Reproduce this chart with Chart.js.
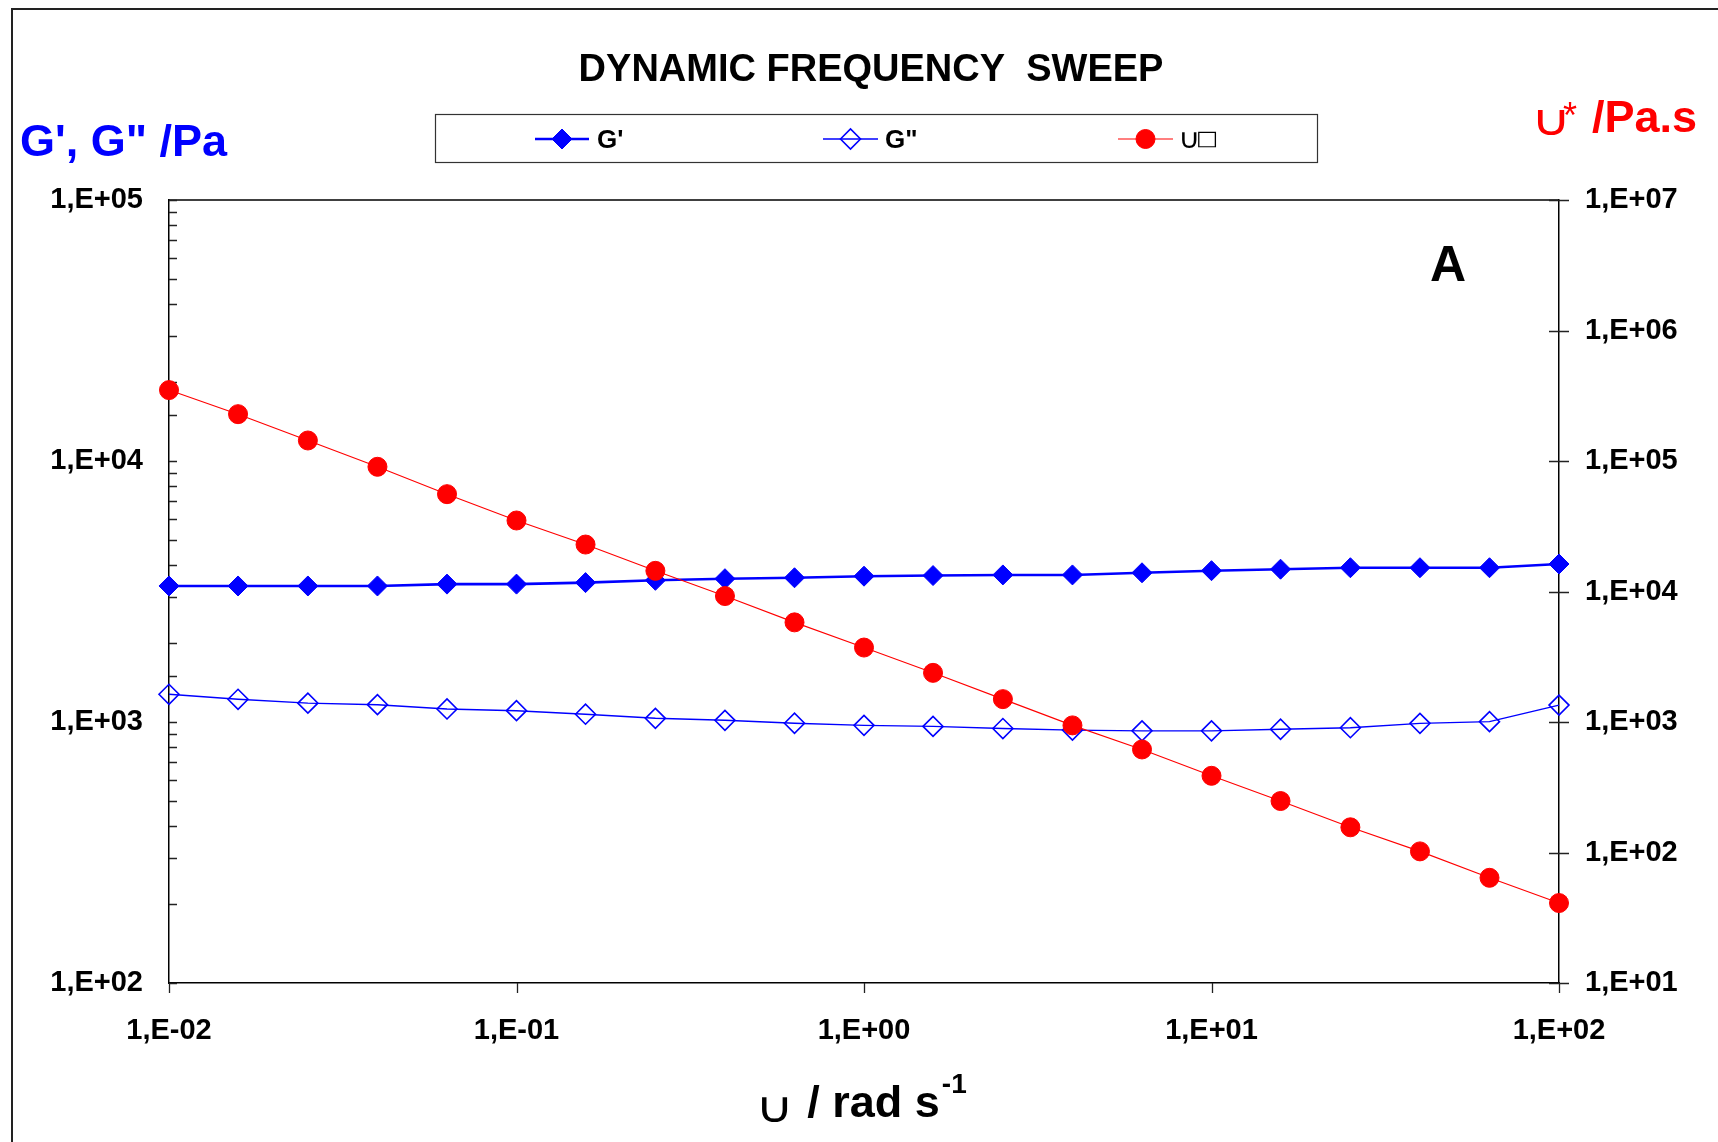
<!DOCTYPE html>
<html>
<head>
<meta charset="utf-8">
<script src="https://cdn.jsdelivr.net/npm/chart.js@4.4.1/dist/chart.umd.min.js"></script>
<style>
  html, body { margin: 0; padding: 0; background: #fff; }
  canvas { display: block; }
</style>
</head>
<body>
<canvas id="chart" width="1718" height="1142"></canvas>
<script>
// angular frequency (rad/s), 5 points per decade
const omega = [0.01, 0.0158, 0.0251, 0.0398, 0.0631, 0.1, 0.158, 0.251, 0.398, 0.631,
               1, 1.58, 2.51, 3.98, 6.31, 10, 15.8, 25.1, 39.8, 63.1, 100];

// storage modulus G' (Pa)
const gPrime = [3320, 3320, 3320, 3320, 3375, 3375, 3420, 3490, 3540, 3570,
                3620, 3640, 3660, 3660, 3730, 3800, 3850, 3900, 3900, 3900, 4030];

// loss modulus G" (Pa)
const gDouble = [1277, 1222, 1181, 1165, 1122, 1105, 1071, 1033, 1015, 989,
                 971, 962, 944, 931, 925, 925, 938, 951, 988, 1003, 1161];

// complex viscosity (Pa.s)
const etaStar = [349400, 228500, 143600, 90300, 55700, 35000, 22900, 14400, 9230, 5800,
                 3720, 2380, 1497, 942, 616, 387, 248, 156, 102, 64, 41];

const seriesNames = ["G'", 'G"', '\u222A\u25A1'];

const BLUE = '#0000FF';
const RED = '#FF0000';
const FONT = '"Liberation Sans", Arial, Helvetica, sans-serif';
const SYMBOL_FONT = '"DejaVu Sans", sans-serif';
const CUP = '\u222A';

const toPoints = (ys) => omega.map((x, i) => ({ x, y: ys[i] }));

function isMajor(v) {
  const l = Math.log10(v);
  return Math.abs(l - Math.round(l)) < 1e-6;
}

function expLabel(v) {
  if (!isMajor(v)) return '';
  const e = Math.round(Math.log10(v));
  return '1,E' + (e < 0 ? '-' : '+') + String(Math.abs(e)).padStart(2, '0');
}

// draw a glyph so that its ink box is width x height px, starting at `left`, sitting on `bottom`
function drawFitted(ctx, text, family, left, bottom, width, height) {
  ctx.font = `100px ${family}`;
  let m = ctx.measureText(text);
  const ink = (m.actualBoundingBoxLeft + m.actualBoundingBoxRight) || m.width;
  const size = 100 * width / ink;
  ctx.font = `${size}px ${family}`;
  m = ctx.measureText(text);
  const inkH = (m.actualBoundingBoxAscent + m.actualBoundingBoxDescent) || size * 0.7;
  const sy = height ? height / inkH : 1;
  ctx.save();
  ctx.translate(left, bottom);
  ctx.scale(1, sy);
  ctx.fillText(text, m.actualBoundingBoxLeft || 0, -(m.actualBoundingBoxDescent || 0));
  ctx.restore();
}

const tickFont = { family: FONT, size: 29, weight: 'bold' };

// outer frame, plot top line and tick marks
const framePlugin = {
  id: 'frame',
  beforeDraw(chart) {
    const { ctx } = chart;
    ctx.save();
    ctx.fillStyle = '#fff';
    ctx.fillRect(0, 0, chart.width, chart.height);
    ctx.strokeStyle = '#222';
    ctx.lineWidth = 2;
    ctx.beginPath();
    ctx.moveTo(12, chart.height);
    ctx.lineTo(12, 9);
    ctx.lineTo(chart.width, 9);
    ctx.stroke();
    ctx.restore();
  },
  beforeDatasetsDraw(chart) {
    const { ctx, chartArea: a, scales } = chart;
    ctx.save();
    ctx.strokeStyle = '#000';
    ctx.lineWidth = 1.5;
    ctx.beginPath();
    ctx.moveTo(a.left, a.top);
    ctx.lineTo(a.right, a.top);
    ctx.stroke();

    ctx.lineWidth = 1.3;
    ctx.strokeStyle = '#222';
    ctx.beginPath();
    scales.y.ticks.forEach(t => {
      const py = Math.round(scales.y.getPixelForValue(t.value)) + 0.5;
      ctx.moveTo(a.left, py);
      ctx.lineTo(a.left + 8, py);
    });
    scales.y1.ticks.forEach(t => {
      if (!isMajor(t.value)) return;
      const py = Math.round(scales.y1.getPixelForValue(t.value)) + 0.5;
      ctx.moveTo(a.right - 10, py);
      ctx.lineTo(a.right + 10, py);
    });
    scales.x.ticks.forEach(t => {
      if (!isMajor(t.value)) return;
      const px = Math.round(scales.x.getPixelForValue(t.value)) + 0.5;
      ctx.moveTo(px, a.bottom);
      ctx.lineTo(px, a.bottom + 10);
    });
    ctx.stroke();
    ctx.restore();
  }
};

// title, axis titles, panel letter and boxed legend
const textPlugin = {
  id: 'texts',
  afterDraw(chart) {
    const { ctx, chartArea: a } = chart;
    ctx.save();
    ctx.textBaseline = 'alphabetic';

    ctx.fillStyle = '#000';
    ctx.textAlign = 'center';
    ctx.font = `bold 38px ${FONT}`;
    ctx.fillText('DYNAMIC FREQUENCY  SWEEP', 871, 81);

    ctx.textAlign = 'left';
    ctx.fillStyle = BLUE;
    ctx.font = `bold 45px ${FONT}`;
    ctx.fillText('G\', G" /Pa', 20, 156);

    // right axis title
    ctx.fillStyle = RED;
    drawFitted(ctx, CUP, SYMBOL_FONT, 1538, 135, 27, 25);
    ctx.font = `36px ${FONT}`;
    ctx.fillText('*', 1563, 128);
    ctx.font = `bold 45px ${FONT}`;
    ctx.fillText('/Pa.s', 1592, 132);

    ctx.fillStyle = '#000';
    ctx.textAlign = 'center';
    ctx.font = `bold 50px ${FONT}`;
    ctx.fillText('A', 1448, 281);

    // x axis title
    ctx.textAlign = 'left';
    const wSym = 26;
    const gap = 20;
    ctx.font = `bold 45px ${FONT}`;
    const wMain = ctx.measureText('/ rad s').width;
    ctx.font = `bold 28px ${FONT}`;
    const wSup = ctx.measureText('-1').width;
    const x0 = (a.left + a.right) / 2 - (wSym + gap + wMain + wSup + 2) / 2;
    drawFitted(ctx, CUP, SYMBOL_FONT, x0, 1122, wSym, 25);
    ctx.font = `bold 45px ${FONT}`;
    ctx.fillText('/ rad s', x0 + wSym + gap, 1117);
    ctx.font = `bold 28px ${FONT}`;
    ctx.fillText('-1', x0 + wSym + gap + wMain + 2, 1093);

    // legend box
    ctx.strokeStyle = '#333';
    ctx.lineWidth = 1.2;
    ctx.strokeRect(435.5, 114.5, 882, 48);
    const items = [
      { x1: 535, x2: 589, tx: 597 },
      { x1: 823, x2: 878, tx: 885 },
      { x1: 1118, x2: 1173, tx: 1181 }
    ];
    const ly = 139;
    chart.data.datasets.forEach((ds, i) => {
      const it = items[i];
      ctx.strokeStyle = ds.borderColor;
      ctx.lineWidth = ds.borderWidth;
      ctx.beginPath();
      ctx.moveTo(it.x1, ly);
      ctx.lineTo(it.x2, ly);
      ctx.stroke();
      ctx.fillStyle = ds.pointBackgroundColor;
      ctx.strokeStyle = ds.pointBorderColor;
      ctx.lineWidth = ds.pointBorderWidth;
      Chart.helpers.drawPoint(ctx, {
        pointStyle: ds.pointStyle,
        radius: ds.pointRadius,
        borderWidth: ds.pointBorderWidth,
        rotation: 0
      }, (it.x1 + it.x2) / 2, ly);
      ctx.fillStyle = '#000';
      ctx.textBaseline = 'alphabetic';
      if (i < 2) {
        ctx.font = `bold 26px ${FONT}`;
        ctx.fillText(seriesNames[i], it.tx, ly + 9);
      } else {
        const [cup, box] = [...seriesNames[i]];
        drawFitted(ctx, cup, SYMBOL_FONT, it.tx, ly + 9, 15, 16);
        drawFitted(ctx, box, SYMBOL_FONT, it.tx + 17, ly + 9, 18, 17);
      }
    });
    ctx.restore();
  }
};

new Chart(document.getElementById('chart'), {
  type: 'line',
  data: {
    datasets: [
      {
        label: seriesNames[0],
        data: toPoints(gPrime),
        yAxisID: 'y',
        borderColor: BLUE,
        borderWidth: 2.6,
        pointStyle: 'rectRot',
        pointRadius: 10,
        pointBackgroundColor: BLUE,
        pointBorderColor: BLUE,
        pointBorderWidth: 1,
        clip: false,
        order: 1
      },
      {
        label: seriesNames[1],
        data: toPoints(gDouble),
        yAxisID: 'y',
        borderColor: BLUE,
        borderWidth: 1.4,
        pointStyle: 'rectRot',
        pointRadius: 10,
        pointBackgroundColor: 'rgba(0,0,0,0)',
        pointBorderColor: BLUE,
        pointBorderWidth: 1.6,
        clip: false,
        order: 2
      },
      {
        label: seriesNames[2],
        data: toPoints(etaStar),
        yAxisID: 'y1',
        borderColor: RED,
        borderWidth: 1.1,
        pointStyle: 'circle',
        pointRadius: 9.5,
        pointBackgroundColor: RED,
        pointBorderColor: RED,
        pointBorderWidth: 1,
        clip: false,
        order: 0
      }
    ]
  },
  options: {
    responsive: false,
    animation: false,
    devicePixelRatio: 1,
    layout: { padding: { top: 200, left: 0, right: 0, bottom: 0 } },
    plugins: {
      legend: { display: false },
      title: { display: false },
      tooltip: { enabled: false }
    },
    scales: {
      x: {
        type: 'logarithmic',
        position: 'bottom',
        min: 0.01,
        max: 100,
        grid: { display: false },
        border: { display: true, color: '#000', width: 1.5 },
        ticks: {
          autoSkip: false,
          maxRotation: 0,
          padding: 23,
          color: '#000',
          font: tickFont,
          callback: (v) => expLabel(v)
        },
        afterFit: (s) => { s.height = 159; }
      },
      y: {
        type: 'logarithmic',
        position: 'left',
        min: 100,
        max: 100000,
        grid: { display: false },
        border: { display: true, color: '#000', width: 1.5 },
        ticks: {
          autoSkip: false,
          padding: 18,
          color: '#000',
          font: tickFont,
          callback: (v) => expLabel(v)
        },
        afterFit: (s) => { s.width = 169; }
      },
      y1: {
        type: 'logarithmic',
        position: 'right',
        min: 10,
        max: 10000000,
        grid: { display: false },
        border: { display: true, color: '#000', width: 1.5 },
        ticks: {
          autoSkip: false,
          padding: 18,
          color: '#000',
          font: tickFont,
          callback: (v) => expLabel(v)
        },
        afterFit: (s) => { s.width = 159; }
      }
    }
  },
  plugins: [framePlugin, textPlugin]
});
</script>
</body>
</html>
